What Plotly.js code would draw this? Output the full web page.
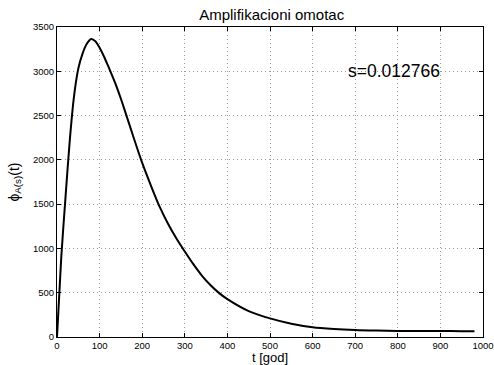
<!DOCTYPE html>
<html><head><meta charset="utf-8">
<script src="https://cdn.plot.ly/plotly-3.0.1.min.js"></script>
<style>html,body{margin:0;padding:0;background:#fff}</style>
</head><body><div id="chart" style="width:494px;height:365px"></div>
<script>
const tYears = [0,10,20,30,40,50,60,70,80,90,100,110,120,130,140,150,160,180,200,220,240,260,280,300,320,340,360,380,400,450,500,550,600,650,700,750,800,850,900,950,980];
const phiValues = [0,900,1580,2220,2720,3030,3200,3310,3365,3340,3265,3170,3060,2945,2825,2690,2545,2250,1965,1715,1480,1285,1115,965,822,694,587,498,427,292,210,150,110,90,78,72,69,68,67,66,66];
const xTicks = [0,100,200,300,400,500,600,700,800,900,1000];
const yTicks = [0,500,1000,1500,2000,2500,3000,3500];
const titleText = 'Amplifikacioni omotac';
const annotText = 's=0.012766';

const font = 'Liberation Sans, Arial, sans-serif';
const axisCommon = {
  showline:true, linecolor:'#000', linewidth:1, mirror:'allticks',
  ticks:'inside', ticklen:4, tickcolor:'#000',
  showgrid:true, gridcolor:'#9a9a9a', griddash:'1px,3px', gridwidth:1,
  zeroline:false, tickfont:{family:font,size:9.5,color:'#000'}
};
Plotly.newPlot('chart', [{
  x:tYears, y:phiValues, type:'scatter', mode:'lines',
  line:{color:'#000', width:2, shape:'spline', smoothing:0.8}
}], {
  width:494, height:365,
  margin:{l:57,r:11,t:27,b:28},
  paper_bgcolor:'#fff', plot_bgcolor:'#fff',
  showlegend:false,
  title:{text:titleText, font:{family:font,size:15,color:'#000'}, x:0.55, xanchor:'center', y:0.96, yanchor:'middle'},
  xaxis:Object.assign({}, axisCommon, {range:[0,1000], tickvals:xTicks, ticktext:xTicks.map(String),
    title:{text:'t [god]', font:{family:font,size:13,color:'#000'}, standoff:1}}),
  yaxis:Object.assign({}, axisCommon, {range:[0,3500], tickvals:yTicks, ticktext:yTicks.map(String),
    title:{text:'ϕ<sub>A(s)</sub>(t)', font:{family:font,size:14,color:'#000'}, standoff:10}}),
  annotations:[{x:790, y:3000, xref:'x', yref:'y', text:annotText, showarrow:false,
    font:{family:font,size:17.5,color:'#000'}, xanchor:'center', yanchor:'middle'}]
}, {displayModeBar:false, staticPlot:true});
</script></body></html>
